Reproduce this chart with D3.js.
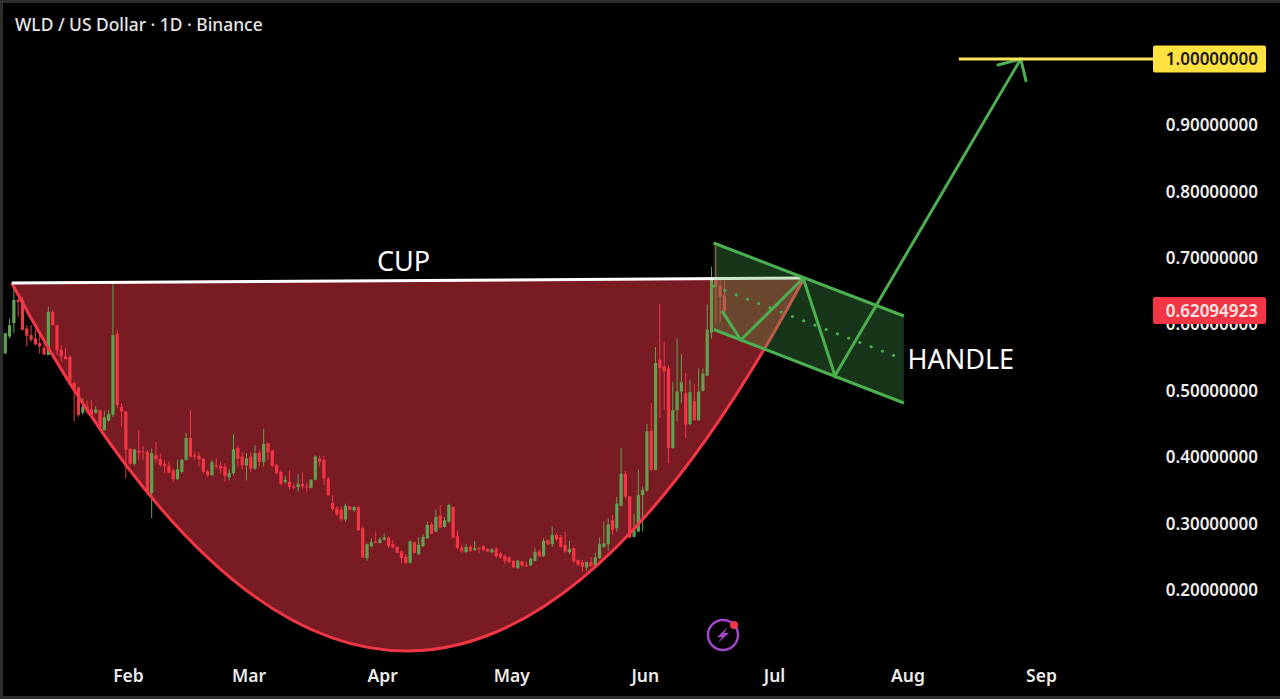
<!DOCTYPE html>
<html>
<head>
<meta charset="utf-8">
<script src="https://cdn.jsdelivr.net/npm/d3@7/dist/d3.min.js"></script>
<style>
  html, body { margin: 0; padding: 0; background: #000; overflow: hidden; }
  svg { display: block; }
  text { font-family: "Noto Sans", sans-serif; }
</style>
</head>
<body>
<svg id="chart" width="1280" height="699"></svg>
<script>
// Daily candles for WLD/USD starting 2025-01-03
const firstDay = "2025-01-03";
const opens = [.556,.582,.602,.637,.637,.594,.584,.579,.572,.565,.554,.619,.599,.562,.552,.551,.512,.505,.467,.476,.472,.467,.471,.441,.455,.464,.586,.476,.469,.413,.390,.410,.409,.408,.346,.403,.397,.390,.387,.380,.367,.378,.396,.429,.403,.402,.398,.379,.373,.388,.387,.386,.370,.376,.414,.401,.388,.401,.383,.407,.393,.421,.410,.388,.378,.363,.363,.356,.355,.360,.356,.354,.366,.398,.396,.368,.331,.323,.321,.306,.326,.320,.325,.293,.248,.266,.273,.271,.276,.279,.269,.265,.258,.250,.241,.272,.254,.266,.278,.299,.288,.312,.295,.303,.325,.281,.264,.257,.265,.260,.263,.266,.262,.257,.262,.255,.251,.249,.244,.233,.243,.237,.237,.244,.258,.251,.275,.269,.283,.280,.268,.257,.263,.245,.242,.234,.242,.237,.248,.265,.269,.305,.293,.327,.375,.341,.280,.288,.343,.350,.440,.381,.547,.537,.534,.414,.471,.499,.496,.450,.484,.456,.500,.523,.588,.672,.658,.644];
const highs = [.556,.609,.659,.639,.642,.599,.599,.592,.589,.579,.627,.622,.599,.569,.565,.554,.514,.506,.489,.486,.486,.477,.472,.470,.471,.662,.593,.481,.469,.413,.413,.441,.417,.411,.413,.423,.406,.396,.393,.383,.396,.398,.437,.471,.408,.407,.398,.381,.396,.398,.393,.391,.382,.435,.418,.408,.406,.408,.418,.411,.443,.422,.411,.390,.380,.372,.380,.361,.375,.377,.362,.367,.403,.402,.402,.370,.343,.326,.326,.330,.327,.327,.326,.296,.270,.278,.287,.280,.285,.281,.275,.266,.260,.254,.275,.273,.279,.284,.303,.303,.321,.328,.310,.330,.326,.290,.268,.269,.268,.274,.265,.268,.263,.263,.265,.257,.254,.251,.245,.245,.244,.243,.249,.263,.261,.278,.277,.296,.285,.283,.288,.274,.264,.246,.245,.243,.250,.256,.279,.303,.308,.313,.340,.414,.379,.342,.315,.381,.356,.450,.482,.566,.631,.574,.538,.514,.579,.556,.527,.516,.510,.534,.534,.630,.687,.720,.672,.667];
const lows = [.556,.579,.587,.612,.592,.567,.574,.569,.556,.554,.554,.599,.554,.544,.547,.511,.454,.461,.464,.465,.461,.466,.443,.440,.454,.461,.474,.446,.368,.388,.387,.396,.396,.343,.308,.391,.386,.376,.376,.362,.366,.376,.396,.400,.396,.386,.376,.370,.372,.383,.376,.363,.365,.373,.386,.381,.365,.378,.381,.386,.386,.396,.385,.375,.358,.360,.351,.352,.348,.352,.348,.353,.365,.386,.358,.342,.319,.311,.303,.303,.320,.318,.289,.248,.244,.264,.270,.270,.274,.263,.263,.255,.240,.239,.240,.255,.253,.265,.277,.284,.287,.293,.294,.301,.278,.261,.256,.256,.257,.259,.255,.259,.257,.255,.248,.247,.239,.240,.233,.232,.235,.235,.236,.243,.250,.250,.268,.265,.274,.264,.256,.254,.241,.236,.228,.229,.235,.236,.247,.263,.259,.283,.288,.326,.338,.278,.279,.287,.288,.348,.380,.380,.459,.471,.391,.413,.454,.481,.429,.448,.455,.455,.499,.522,.579,.602,.604,.618];
const closes = [.587,.599,.637,.634,.592,.583,.577,.570,.567,.555,.619,.599,.561,.552,.548,.514,.504,.464,.476,.469,.464,.472,.446,.460,.465,.584,.479,.469,.411,.390,.412,.407,.408,.346,.406,.397,.388,.387,.377,.367,.382,.396,.429,.401,.401,.397,.378,.373,.393,.386,.383,.372,.376,.412,.398,.388,.398,.383,.406,.393,.420,.407,.387,.376,.360,.366,.355,.354,.360,.356,.355,.366,.401,.393,.368,.343,.322,.314,.306,.327,.321,.325,.290,.249,.269,.272,.271,.276,.279,.266,.264,.256,.248,.241,.273,.256,.268,.280,.298,.285,.310,.294,.305,.328,.279,.263,.258,.265,.259,.263,.262,.260,.258,.261,.251,.249,.244,.242,.234,.244,.237,.236,.247,.257,.251,.274,.269,.283,.276,.265,.258,.262,.243,.238,.235,.242,.236,.249,.269,.270,.299,.291,.330,.375,.341,.279,.290,.343,.351,.439,.381,.542,.534,.529,.414,.471,.499,.513,.449,.498,.456,.499,.526,.592,.670,.657,.642,.621];

const priceTicks = [.9, .8, .7, .6, .5, .4, .3, .2];
const monthTicks = ["2025-02-01","2025-03-01","2025-04-01","2025-05-01","2025-06-01","2025-07-01","2025-08-01","2025-09-01"];

// Drawing anchors: [time, price]
const cupStart = ["2025-01-05", .6625];
const cupControl = ["2025-04-07", -.450];
const cupEnd = ["2025-07-08", .670];
const channelTop = [["2025-06-17", .7228], ["2025-07-31T04:00Z", .6128]];
const channelBottom = [["2025-06-17", .5925], ["2025-07-31T04:00Z", .4817]];
const channelMiddle = [["2025-06-17", .6577], ["2025-07-31T04:00Z", .5473]];
const projection = [["2025-06-19T02:00Z", .619], ["2025-06-23T07:00Z", .5767], ["2025-07-07T19:00Z", .6696], ["2025-07-15T04:00Z", .5229], ["2025-08-27T07:00Z", 1]];
const arrowHead = [["2025-08-22", .991], ["2025-08-27T07:00Z", 1], ["2025-08-28T12:00Z", .9673]];
const targetStart = "2025-08-12T22:00Z";
const targetPrice = 1;
const lastPrice = 0.62094923;

const cupLabel = ["CUP", "2025-04-06", .6955];
const handleLabel = ["HANDLE", "2025-08-01", .5475];

const RED = "#f23645", GREEN = "#5da351", LINE_GREEN = "#4caf50";
const GUTTER_X = 1153, LABEL_RIGHT = 1258;

const svg = d3.select("#chart");
const t = s => new Date(s);
const x = d3.scaleUtc().domain([t("2025-02-01"), t("2025-09-01")]).range([128, 1041]);
const y = d3.scaleLinear().domain([.2, 1]).range([590, 59]);
const px = ([d, v]) => [x(t(d)), y(v)];
const line = d3.line();

// Cup: quadratic curve closed by the rim
const [c0x, c0y] = px(cupStart), [c1x, c1y] = px(cupControl), [c2x, c2y] = px(cupEnd);
const bowl = d3.path();
bowl.moveTo(c0x, c0y);
bowl.quadraticCurveTo(c1x, c1y, c2x, c2y);
svg.append("path").attr("d", bowl.toString() + "Z").attr("fill", RED).attr("fill-opacity", .5);

// Candles
const candles = opens.map((o, i) => ({
  noon: d3.utcHour.offset(d3.utcDay.offset(t(firstDay), i), 12),
  o, h: highs[i], l: lows[i], c: closes[i]
}));
const candle = svg.append("g").selectAll("g").data(candles).join("g")
  .attr("fill", d => d.c >= d.o ? GREEN : RED)
  .attr("stroke", d => d.c >= d.o ? GREEN : RED);
candle.append("line")
  .attr("x1", d => x(d.noon)).attr("x2", d => x(d.noon))
  .attr("y1", d => y(d.h)).attr("y2", d => y(d.l))
  .attr("stroke-width", 1);
candle.append("rect")
  .attr("x", d => x(d.noon) - 1.6).attr("width", 3.2)
  .attr("y", d => y(Math.max(d.o, d.c)))
  .attr("height", d => Math.max(1, Math.abs(y(d.o) - y(d.c))))
  .attr("stroke", "none");

svg.append("path").attr("d", bowl.toString()).attr("fill", "none")
  .attr("stroke", RED).attr("stroke-width", 3);
svg.append("path").attr("d", line([cupStart, cupEnd].map(px))).attr("fill", "none")
  .attr("stroke", "#fff").attr("stroke-width", 3);

// Handle channel
const corners = [...channelTop, ...channelBottom.slice().reverse()].map(px);
svg.append("path").attr("d", line(corners) + "Z")
  .attr("fill", LINE_GREEN).attr("fill-opacity", .3);
[channelTop, channelBottom].forEach(edge => {
  svg.append("path").attr("d", line(edge.map(px))).attr("fill", "none")
    .attr("stroke", LINE_GREEN).attr("stroke-width", 3);
});
svg.append("path").attr("d", line(channelMiddle.map(px))).attr("fill", "none")
  .attr("stroke", LINE_GREEN).attr("stroke-width", 3)
  .attr("stroke-linecap", "round").attr("stroke-dasharray", "0.1 11.95");

// Projected path with its arrow
[projection, arrowHead].forEach(pts => {
  svg.append("path").attr("d", line(pts.map(px))).attr("fill", "none")
    .attr("stroke", LINE_GREEN).attr("stroke-width", 3)
    .attr("stroke-linejoin", "miter").attr("stroke-linecap", "round");
});

// Target level
svg.append("line")
  .attr("x1", x(t(targetStart))).attr("x2", GUTTER_X)
  .attr("y1", y(targetPrice)).attr("y2", y(targetPrice))
  .attr("stroke", "#ffe45c").attr("stroke-width", 3);

// Axes
const yAxis = d3.axisLeft(y).tickValues(priceTicks).tickSize(0).tickPadding(0).tickFormat(d3.format(".8f"));
const yG = svg.append("g").attr("transform", `translate(${LABEL_RIGHT},0)`).call(yAxis);
yG.select(".domain").remove();
yG.selectAll("text").attr("fill", "#ececec").attr("font-size", 17).attr("font-weight", 600)
  .style("font-family", '"Noto Sans", sans-serif');

const xAxis = d3.axisBottom(x).tickValues(monthTicks.map(t)).tickSize(0).tickPadding(0).tickFormat(d3.utcFormat("%b"));
const xG = svg.append("g").attr("transform", "translate(0,670)").call(xAxis);
xG.select(".domain").remove();
xG.selectAll("text").attr("fill", "#ececec").attr("font-size", 17.5).attr("font-weight", 600)
  .style("font-family", '"Noto Sans", sans-serif');

// Price tags in the gutter
function priceTag(value, bg, fg) {
  const cy = y(value);
  svg.append("rect").attr("x", GUTTER_X).attr("y", cy - 13.5).attr("width", 113).attr("height", 27)
    .attr("rx", 2).attr("fill", bg);
  svg.append("text").attr("x", LABEL_RIGHT).attr("y", cy).attr("dy", ".36em")
    .attr("text-anchor", "end").attr("fill", fg).attr("font-size", 17).attr("font-weight", 600)
    .text(d3.format(".8f")(value));
}
priceTag(targetPrice, "#ffe13f", "#1a1a1a");
priceTag(lastPrice, RED, "#fde8e8");

// Annotations and title
[cupLabel, handleLabel].forEach(([label, d, v], i) => {
  svg.append("text").attr("x", x(t(d))).attr("y", y(v)).attr("dy", ".36em")
    .attr("text-anchor", i ? "start" : "middle")
    .attr("fill", "#fff").attr("font-size", 27).text(label);
});
svg.append("text").attr("x", 15).attr("y", 25).attr("dy", ".36em")
  .attr("fill", "#e6e6e6").attr("font-size", 17.4).attr("font-weight", 500)
  .text("WLD / US Dollar · 1D · Binance");

// Lightning badge
const badge = svg.append("g").attr("transform", "translate(723,635)");
badge.append("circle").attr("r", 15).attr("fill", "none").attr("stroke", "#a347c9").attr("stroke-width", 2.5);
badge.append("path").attr("d", "M5,-8 L-6,2 L-1,2 L-5,8 L6,-2 L1,-2 Z").attr("fill", "#a347c9");
badge.append("circle").attr("cx", 11).attr("cy", -10).attr("r", 4).attr("fill", "#f23645");

// Window frame
const frame = svg.append("g").attr("fill", "#2e2e2e");
frame.append("rect").attr("x", 0).attr("y", 0).attr("width", 1280).attr("height", 3);
frame.append("rect").attr("x", 0).attr("y", 0).attr("width", 3).attr("height", 699);
frame.append("rect").attr("x", 0).attr("y", 696).attr("width", 1280).attr("height", 3);
</script>
</body>
</html>
